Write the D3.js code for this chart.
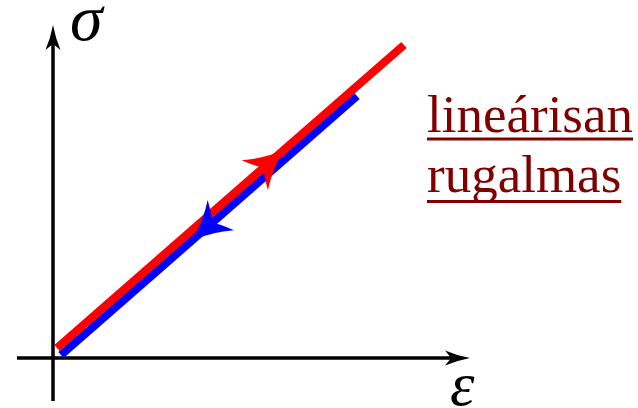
<!DOCTYPE html>
<html>
<head>
<meta charset="utf-8">
<script src="https://cdn.jsdelivr.net/npm/d3@7"></script>
<style>
  html, body { margin: 0; padding: 0; background: #fff; }
  svg { display: block; }
</style>
</head>
<body>
<svg id="chart" width="638" height="408"></svg>
<script>
// Strain (ε) and stress (σ) in arbitrary units
const axisStrain = [-9, 104.25];   // horizontal axis extent
const axisStress = [-10.75, 83.25]; // vertical axis extent

// Loading path (red) and unloading path (blue)
const loadStrain   = [1, 87.75];
const loadStress   = [2.5, 78.25];
const unloadStrain = [76, 2];
const unloadStress = [65.5, 0.75];

// Where along each path the direction arrow sits (fraction of length)
const loadArrowAt = 0.57;
const unloadArrowAt = 0.46;

const labelLines = ["lineárisan", "rugalmas"];

const svg = d3.select("#chart");

const x = d3.scaleLinear().domain([0, 100]).range([53, 453]);
const y = d3.scaleLinear().domain([0, 100]).range([358, -42]);

// Arrowhead shape (stealth style), drawn pointing along +x with tip at origin
function headPath(len, half, notch) {
  return `M0,0 Q${-len * 0.55},${-half * 0.35} ${-len},${-half}` +
         ` Q${-len * 0.8},${-half * 0.2} ${-len + notch},0` +
         ` Q${-len * 0.8},${half * 0.2} ${-len},${half}` +
         ` Q${-len * 0.55},${half * 0.35} 0,0 Z`;
}

function drawHead(g, px, py, angleDeg, len, half, notch, color) {
  g.append("path")
    .attr("d", headPath(len, half, notch))
    .attr("transform", `translate(${px},${py}) rotate(${angleDeg})`)
    .attr("fill", color);
}

// Axes
const axes = svg.append("g");
const xTip = x(axisStrain[1]);
const yTip = y(axisStress[1]);
axes.append("line")
  .attr("x1", x(axisStrain[0])).attr("x2", xTip - 10)
  .attr("y1", y(0)).attr("y2", y(0))
  .attr("stroke", "#000").attr("stroke-width", 3.5);
axes.append("line")
  .attr("x1", x(0)).attr("x2", x(0))
  .attr("y1", y(axisStress[0])).attr("y2", yTip + 10)
  .attr("stroke", "#000").attr("stroke-width", 3.5);
drawHead(axes, xTip, y(0), 0, 25, 7.5, 6, "#000");
drawHead(axes, x(0), yTip, -90, 25, 7.5, 6, "#000");

// Paths
const line = d3.line().x(d => x(d[0])).y(d => y(d[1]));
const loadPts = d3.zip(loadStrain, loadStress);
const unloadPts = d3.zip(unloadStrain, unloadStress);

svg.append("path").attr("d", line(unloadPts))
  .attr("fill", "none").attr("stroke", "#0000ff").attr("stroke-width", 8.2);
svg.append("path").attr("d", line(loadPts))
  .attr("fill", "none").attr("stroke", "#ff0000").attr("stroke-width", 8.2);

function pathArrow(pts, t, color) {
  const x0 = x(pts[0][0]), y0 = y(pts[0][1]);
  const x1 = x(pts[1][0]), y1 = y(pts[1][1]);
  const ang = Math.atan2(y1 - y0, x1 - x0) * 180 / Math.PI;
  const dx = x1 - x0, dy = y1 - y0, L = Math.hypot(dx, dy);
  const len = 38;
  // tip placed so the barbs sit at fraction t
  const px = x0 + dx * t + dx / L * len;
  const py = y0 + dy * t + dy / L * len;
  drawHead(svg, px, py, ang, len, 20, 12, color);
}
pathArrow(unloadPts, unloadArrowAt, "#0000ff");
pathArrow(loadPts, loadArrowAt, "#ff0000");

// Axis labels
svg.append("text").text("σ")
  .attr("x", 70).attr("y", 40)
  .attr("font-family", "Liberation Serif").attr("font-style", "italic")
  .attr("font-size", 66).attr("fill", "#000");
svg.append("text").text("ε")
  .attr("x", 450).attr("y", 405)
  .attr("font-family", "Liberation Serif").attr("font-style", "italic")
  .attr("font-size", 62).attr("fill", "#000");

// Underlined label
const lab = svg.append("g");
const baselines = [132, 192];
const underY = [139, 201.5];
labelLines.forEach((s, i) => {
  const t = lab.append("text").text(s)
    .attr("x", 427).attr("y", baselines[i])
    .attr("font-family", "Liberation Serif")
    .attr("font-size", 53).attr("fill", "#800000");
  const w = t.node().getComputedTextLength();
  lab.append("line")
    .attr("x1", 427).attr("x2", 427 + w)
    .attr("y1", underY[i]).attr("y2", underY[i])
    .attr("stroke", "#800000").attr("stroke-width", 3);
});
</script>
</body>
</html>
